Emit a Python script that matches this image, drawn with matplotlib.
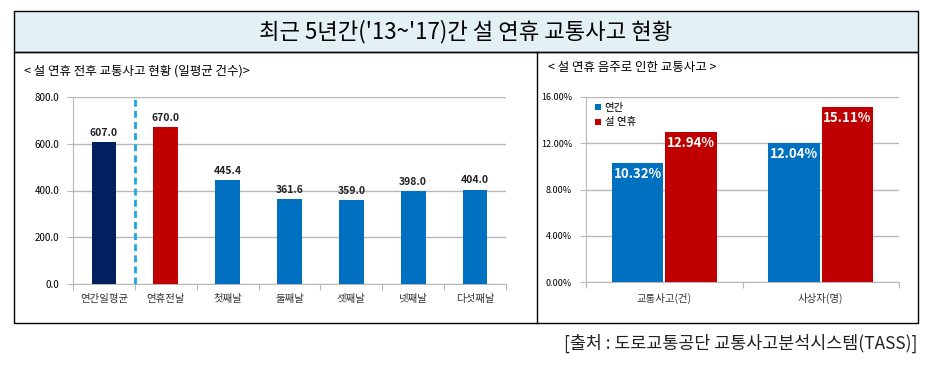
import matplotlib
matplotlib.use("Agg")
import matplotlib.pyplot as plt
from matplotlib.patches import Rectangle
from matplotlib.lines import Line2D

plt.rcParams['font.family'] = ['Noto Sans CJK KR', 'DejaVu Sans']

# left chart data
days = ["연간일평균", "연휴전날", "첫째날", "둘째날", "셋째날", "넷째날", "다섯째날"]
daily = [607.0, 670.0, 445.4, 361.6, 359.0, 398.0, 404.0]
dayColors = ["#002060", "#c00000", "#0070c0", "#0070c0", "#0070c0", "#0070c0", "#0070c0"]

# right chart data
groups = ["교통사고(건)", "사상자(명)"]
annual = [10.32, 12.04]
holiday = [12.94, 15.11]

W, H = 931, 377
fig = plt.figure(figsize=(W / 100, H / 100), dpi=100)

def fx(px):
    return px / W

def fy(py):
    return 1 - py / H

# frame boxes
fig.patches.append(Rectangle((fx(14), fy(52)), fx(918) - fx(14), fy(11) - fy(52),
                             transform=fig.transFigure, facecolor="#e3f1f4",
                             edgecolor="black", linewidth=1.0))
fig.patches.append(Rectangle((fx(14), fy(323)), fx(918) - fx(14), fy(52) - fy(323),
                             transform=fig.transFigure, facecolor="none",
                             edgecolor="black", linewidth=1.0))
fig.lines.append(Line2D([fx(537), fx(537)], [fy(52), fy(323)], transform=fig.transFigure,
                        color="black", linewidth=1.0))

fig.text(0.5, fy(32), "최근 5년간('13~'17)간 설 연휴 교통사고 현황", ha="center", va="center",
         fontsize=16)
fig.text(fx(24), fy(71), "< 설 연휴 전후 교통사고 현황 (일평균 건수)>", ha="left", va="center",
         fontsize=9)
fig.text(fx(548), fy(67), "< 설 연휴 음주로 인한 교통사고 >", ha="left", va="center",
         fontsize=9)
fig.text(fx(917), fy(343), "[출처 : 도로교통공단 교통사고분석시스템(TASS)]", ha="right",
         va="center", fontsize=12.5, color="#222222")

grid_c = "#b8b8b8"

# left chart
ax1 = fig.add_axes([fx(73), fy(284), fx(506) - fx(73), fy(97) - fy(284)])
xs = range(len(days))
ax1.bar(xs, daily, width=0.4, color=dayColors, zorder=3)
for x, v in zip(xs, daily):
    ax1.text(x, v + 18, f"{v:.1f}", ha="center", va="bottom", fontsize=7.5,
             fontweight="bold", color="#222222")
ax1.axvline(0.5, color="#19a7e0", linestyle=(0, (2.5, 1.5)), linewidth=2, zorder=4)
ax1.set_xlim(-0.5, len(days) - 0.5)
ax1.set_ylim(0, 800)
ax1.set_yticks([0, 200, 400, 600, 800])
ax1.set_yticklabels([f"{t:.1f}" for t in [0, 200, 400, 600, 800]], fontsize=7)
ax1.set_xticks([x + 0.5 for x in range(-1, len(days))], minor=False)
ax1.set_xticklabels([])
ax1.set_xticks(list(xs), minor=True)
ax1.set_xticklabels(days, minor=True, fontsize=7.5, color="#333333")
ax1.tick_params(axis="x", which="minor", length=0, pad=7)
ax1.tick_params(axis="x", which="major", length=4, color=grid_c)
ax1.tick_params(axis="y", length=4, color=grid_c, pad=6)
ax1.yaxis.grid(True, color=grid_c, linewidth=1, zorder=0)
for s in ["top", "right"]:
    ax1.spines[s].set_visible(False)
for s in ["left", "bottom"]:
    ax1.spines[s].set_color(grid_c)

# right chart
ax2 = fig.add_axes([fx(586), fy(282), fx(899) - fx(586), fy(97) - fy(282)])
gx = range(len(groups))
bw = 0.33
b1 = ax2.bar([x - bw / 2 - 0.005 for x in gx], annual, width=bw, color="#0070c0",
             label="연간", zorder=3)
b2 = ax2.bar([x + bw / 2 + 0.005 for x in gx], holiday, width=bw, color="#c00000",
             label="설 연휴", zorder=3)
for bars, vals in [(b1, annual), (b2, holiday)]:
    for b, v in zip(bars, vals):
        ax2.text(b.get_x() + b.get_width() / 2, v - 0.35, f"{v:.2f}%", ha="center", va="top",
                 fontsize=9.5, fontweight="bold", color="white", zorder=4)
ax2.set_xlim(-0.5, len(groups) - 0.5)
ax2.set_ylim(0, 16)
ax2.set_yticks([0, 4, 8, 12, 16])
ax2.set_yticklabels([f"{t:.2f}%" for t in [0, 4, 8, 12, 16]], fontsize=6.5)
ax2.set_xticks([-0.5, 0.5, 1.5])
ax2.set_xticklabels([])
ax2.set_xticks(list(gx), minor=True)
ax2.set_xticklabels(groups, minor=True, fontsize=7.5, color="#333333")
ax2.tick_params(axis="x", which="minor", length=0, pad=8)
ax2.tick_params(axis="x", which="major", length=4, color=grid_c)
ax2.tick_params(axis="y", length=4, color=grid_c, pad=6)
ax2.yaxis.grid(True, color=grid_c, linewidth=1, zorder=0)
for s in ["top", "right"]:
    ax2.spines[s].set_visible(False)
for s in ["left", "bottom"]:
    ax2.spines[s].set_color(grid_c)
ax2.legend(loc="upper left", bbox_to_anchor=(0.0, 1.02), frameon=False, fontsize=7.5,
           handlelength=0.5, handleheight=0.5, handletextpad=0.4, labelspacing=0.45)

fig.savefig("out.png", dpi=100)
